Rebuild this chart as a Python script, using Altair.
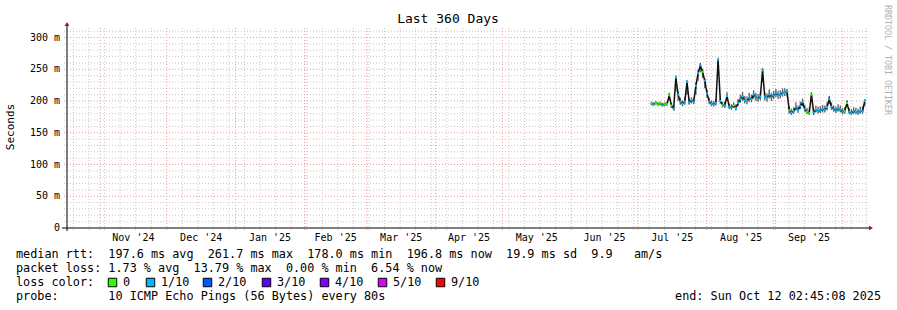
import altair as alt
import pandas as pd

# ---------------- data ----------------
FIRST_SAMPLE = "2025-07-07 02:45:08"   # first daily sample
median_ms = [196, 195, 197, 195, 196, 194, 195, 195, 209, 193,
             188, 237, 210, 199, 196, 199, 230, 198, 201, 199,
             224, 244, 256, 246, 232, 212, 199, 196, 195, 197,
             265, 200, 194, 193, 208, 191, 190, 193, 189, 197,
             203, 207, 201, 200, 205, 203, 210, 206, 204, 207,
             248, 207, 205, 210, 206, 209, 212, 209, 210, 213,
             214, 215, 185, 182, 184, 190, 186, 192, 198, 187,
             183, 181, 210, 182, 186, 184, 185, 187, 186, 190,
             203, 191, 187, 185, 188, 186, 183, 184, 197, 183,
             181, 184, 183, 182, 184, 184, 200]
smoke_hi_ms = [199, 198, 200, 198, 199, 197, 198, 199, 213, 197,
               193, 240, 214, 205, 201, 206, 233, 203, 206, 204,
               229, 249, 260, 250, 236, 218, 205, 201, 200, 203,
               268, 206, 199, 199, 214, 196, 195, 198, 195, 203,
               210, 214, 208, 207, 213, 210, 217, 213, 211, 214,
               252, 214, 212, 218, 213, 216, 219, 216, 217, 220,
               220, 219, 192, 188, 190, 198, 193, 199, 204, 194,
               189, 188, 214, 188, 193, 191, 192, 194, 193, 198,
               208, 198, 193, 191, 195, 193, 189, 190, 201, 189,
               187, 190, 189, 188, 191, 192, 203]
smoke_lo_ms = [193, 192, 194, 192, 193, 191, 192, 192, 200, 189,
               185, 215, 200, 194, 192, 194, 210, 194, 196, 195,
               210, 232, 245, 236, 220, 205, 195, 192, 191, 193,
               240, 196, 190, 189, 200, 187, 186, 189, 185, 192,
               197, 200, 196, 195, 199, 198, 203, 200, 199, 201,
               230, 201, 199, 204, 200, 203, 206, 203, 204, 207,
               208, 207, 180, 178, 180, 185, 181, 187, 192, 183,
               179, 178, 200, 178, 182, 180, 181, 182, 182, 185,
               195, 186, 183, 181, 183, 182, 179, 180, 190, 179,
               178, 180, 179, 178, 180, 180, 192]
loss_level = [0, 1, 0, 0, 0, 1, 0, 0, 0, 0,
              1, 1, 1, 1, 1, 1, 1, 1, 1, 1,
              1, 1, 1, 0, 1, 1, 1, 1, 1, 1,
              1, 1, 0, 1, 1, 1, 1, 0, 1, 1,
              1, 1, 1, 1, 1, 1, 1, 1, 1, 1,
              1, 1, 1, 1, 1, 1, 1, 1, 1, 1,
              1, 1, 0, 1, 1, 1, 1, 1, 1, 1,
              0, 0, 0, 1, 1, 1, 1, 1, 1, 1,
              1, 1, 1, 1, 1, 1, 1, 0, 0, 1,
              1, 1, 1, 1, 1, 1, 1]

loss_colors = ["#26ff00", "#00b8ff", "#0059ff", "#5e00ff", "#7e00ff", "#dd00ff", "#ff0000"]
loss_labels = ["0", "1/10", "2/10", "3/10", "4/10", "5/10", "9/10"]
loss_box_left = [108, 146, 203, 262, 320, 378, 436]

y_tick_values = [0, 50, 100, 150, 200, 250, 300]
y_tick_labels = ["0", "50 m", "100 m", "150 m", "200 m", "250 m", "300 m"]
month_labels = ["Nov '24", "Dec '24", "Jan '25", "Feb '25", "Mar '25", "Apr '25",
                "May '25", "Jun '25", "Jul '25", "Aug '25", "Sep '25"]

title_text = "Last 360 Days"
y_title = "Seconds"
credit = "RRDTOOL / TOBI OETIKER"
legend_lines = [
    "median rtt:  197.6 ms avg  261.7 ms max  178.0 ms min  196.8 ms now  19.9 ms sd  9.9   am/s",
    "packet loss: 1.73 % avg  13.79 % max  0.00 % min  6.54 % now",
    "loss color:",
    "probe:       10 ICMP Echo Pings (56 Bytes) every 80s",
]
end_text = "end: Sun Oct 12 02:45:08 2025"

# ---------------- layout ----------------
W, H = 800, 200
LEFT, TOP = 67, 28
FONT = "DejaVu Sans Mono"
Y_MAX = 315
NB = "\u00a0"  # keep runs of spaces visible in SVG text

dates = pd.date_range(FIRST_SAMPLE, periods=len(median_ms), freq="D")
df = pd.DataFrame({"t": dates, "v": median_ms, "hi": smoke_hi_ms, "lo": smoke_lo_ms,
                   "loss": [loss_labels[k] for k in loss_level]})

month_starts = pd.date_range("2024-11-01", "2025-10-01", freq="MS")
weeks = pd.date_range("2024-10-20", "2025-10-12", freq="7D")
weeks = [w for w in weeks if w not in set(month_starts)]
mids = [month_starts[i] + (month_starts[i + 1] - month_starts[i]) / 2
        for i in range(len(month_starts) - 1)]
df_mlab = pd.DataFrame({"t": mids, "lab": month_labels})

minor_y = [v for v in range(10, 320, 10) if v % 50 != 0]
major_y = [50, 100, 150, 200, 250, 300]

xs = alt.Scale(domain=[alt.DateTime(year=2024, month=10, date=17, hours=2, minutes=45, seconds=8),
                       alt.DateTime(year=2025, month=10, date=12, hours=2, minutes=45, seconds=8)])
ys = alt.Scale(domain=[0, Y_MAX], nice=False, zero=False)
X = lambda f: alt.X(f, type="temporal", scale=xs, axis=None)
Y = lambda f: alt.Y(f, type="quantitative", scale=ys, axis=None)

MINOR = "#c8c8c8"
MAJOR = "#f09a9a"
DASH = [1, 2]

hgrid_minor = alt.Chart(pd.DataFrame({"y": minor_y})).mark_rule(
    color=MINOR, strokeDash=DASH, strokeWidth=1).encode(
    y=Y("y"), x=alt.value(-3), x2=alt.value(W))
hgrid_major = alt.Chart(pd.DataFrame({"y": major_y})).mark_rule(
    color=MAJOR, strokeDash=DASH, strokeWidth=1).encode(
    y=Y("y"), x=alt.value(-3), x2=alt.value(W))
vgrid_minor = alt.Chart(pd.DataFrame({"t": weeks})).mark_rule(
    color=MINOR, strokeDash=DASH, strokeWidth=1).encode(
    x=X("t"), y=alt.value(0), y2=alt.value(H + 3))
vgrid_major = alt.Chart(pd.DataFrame({"t": month_starts})).mark_rule(
    color=MAJOR, strokeDash=DASH, strokeWidth=1).encode(
    x=X("t"), y=alt.value(0), y2=alt.value(H + 3))

smoke = alt.Chart(df).mark_rule(color="#2a2a2a", strokeWidth=1.4, opacity=0.7).encode(
    x=X("t"), y=Y("lo"), y2="hi:Q")
line = alt.Chart(df).mark_line(color="#111111", strokeWidth=1.5).encode(
    x=X("t"), y=Y("v"))
dots = alt.Chart(df).mark_square(size=4, opacity=1).encode(
    x=X("t"), y=Y("v"),
    color=alt.Color("loss:N", scale=alt.Scale(domain=loss_labels, range=loss_colors), legend=None))

xaxis = alt.Chart(pd.DataFrame({"a": [0]})).mark_rule(color="#000000", strokeWidth=1).encode(
    x=alt.value(-5), x2=alt.value(W + 3), y=alt.value(H))
yaxis = alt.Chart(pd.DataFrame({"a": [0]})).mark_rule(color="#000000", strokeWidth=1).encode(
    x=alt.value(0), y=alt.value(-3), y2=alt.value(H + 3))
arrow_up = alt.Chart(pd.DataFrame({"a": [0]})).mark_point(
    shape="triangle-up", filled=True, color="#8b1c1c", size=22, opacity=1).encode(
    x=alt.value(0), y=alt.value(-4))
arrow_right = alt.Chart(pd.DataFrame({"a": [0]})).mark_point(
    shape="triangle-right", filled=True, color="#8b1c1c", size=22, opacity=1).encode(
    x=alt.value(W + 4), y=alt.value(H))

ylabels = alt.Chart(pd.DataFrame({"y": y_tick_values,
                                  "lab": [s.replace(" ", NB) for s in y_tick_labels]})).mark_text(
    font=FONT, fontSize=10, align="right", baseline="middle", color="#000000").encode(
    y=Y("y"), x=alt.value(-7), text="lab:N")
xlabels = alt.Chart(df_mlab.assign(lab=[s.replace(" ", NB) for s in month_labels])).mark_text(
    font=FONT, fontSize=10, align="center", baseline="middle", color="#000000").encode(
    x=X("t"), y=alt.value(238 - TOP), text="lab:N")


def txt(s, x, y, **kw):
    return alt.Chart(pd.DataFrame({"s": [s.replace(" ", NB)]})).mark_text(font=FONT, **kw).encode(
        x=alt.value(x - LEFT), y=alt.value(y - TOP), text="s:N")


title = txt(title_text, 448, 19, fontSize=13, align="center", baseline="middle", color="#000000")
ytitle = txt(y_title, 11, 127, fontSize=11, angle=270, align="center", baseline="middle", color="#000000")
credit_t = txt(credit, 887, 60, fontSize=8.3, angle=90, align="center", baseline="middle", color="#b0b0b0")

legend_layers = []
for i, s in enumerate(legend_lines):
    legend_layers.append(txt(s, 16, 254 + 14 * i, fontSize=11.8, align="left",
                             baseline="middle", color="#000000"))
legend_layers.append(txt(end_text, 881, 296, fontSize=11.8, align="right",
                         baseline="middle", color="#000000"))

box_df = pd.DataFrame({"bx": [b + 4.5 - LEFT for b in loss_box_left],
                       "lx": [b + 15 - LEFT for b in loss_box_left],
                       "c": loss_colors, "lab": loss_labels})
boxes = alt.Chart(box_df).mark_square(size=72, stroke="#000000", strokeWidth=1, opacity=1).encode(
    x=alt.X("bx:Q", scale=None, axis=None), y=alt.value(282.5 - TOP),
    fill=alt.Fill("c:N", scale=None, legend=None))
box_labels = alt.Chart(box_df).mark_text(font=FONT, fontSize=11.8, align="left",
                                         baseline="middle", color="#000000").encode(
    x=alt.X("lx:Q", scale=None, axis=None), y=alt.value(282 - TOP), text="lab:N")

chart = alt.layer(
    hgrid_minor, vgrid_minor, hgrid_major, vgrid_major,
    smoke, line, dots,
    xaxis, yaxis, arrow_up, arrow_right,
    ylabels, xlabels, title, ytitle, credit_t,
    *legend_layers, boxes, box_labels,
).resolve_scale(x="independent").properties(
    width=W, height=H,
    padding={"left": LEFT, "top": TOP, "right": 897 - LEFT - W, "bottom": 310 - TOP - H},
    autosize=alt.AutoSizeParams(type="none"),
    background="#ffffff",
).configure_view(stroke=None)

chart.save("out.html", embed_options={"renderer": "svg", "actions": False})
